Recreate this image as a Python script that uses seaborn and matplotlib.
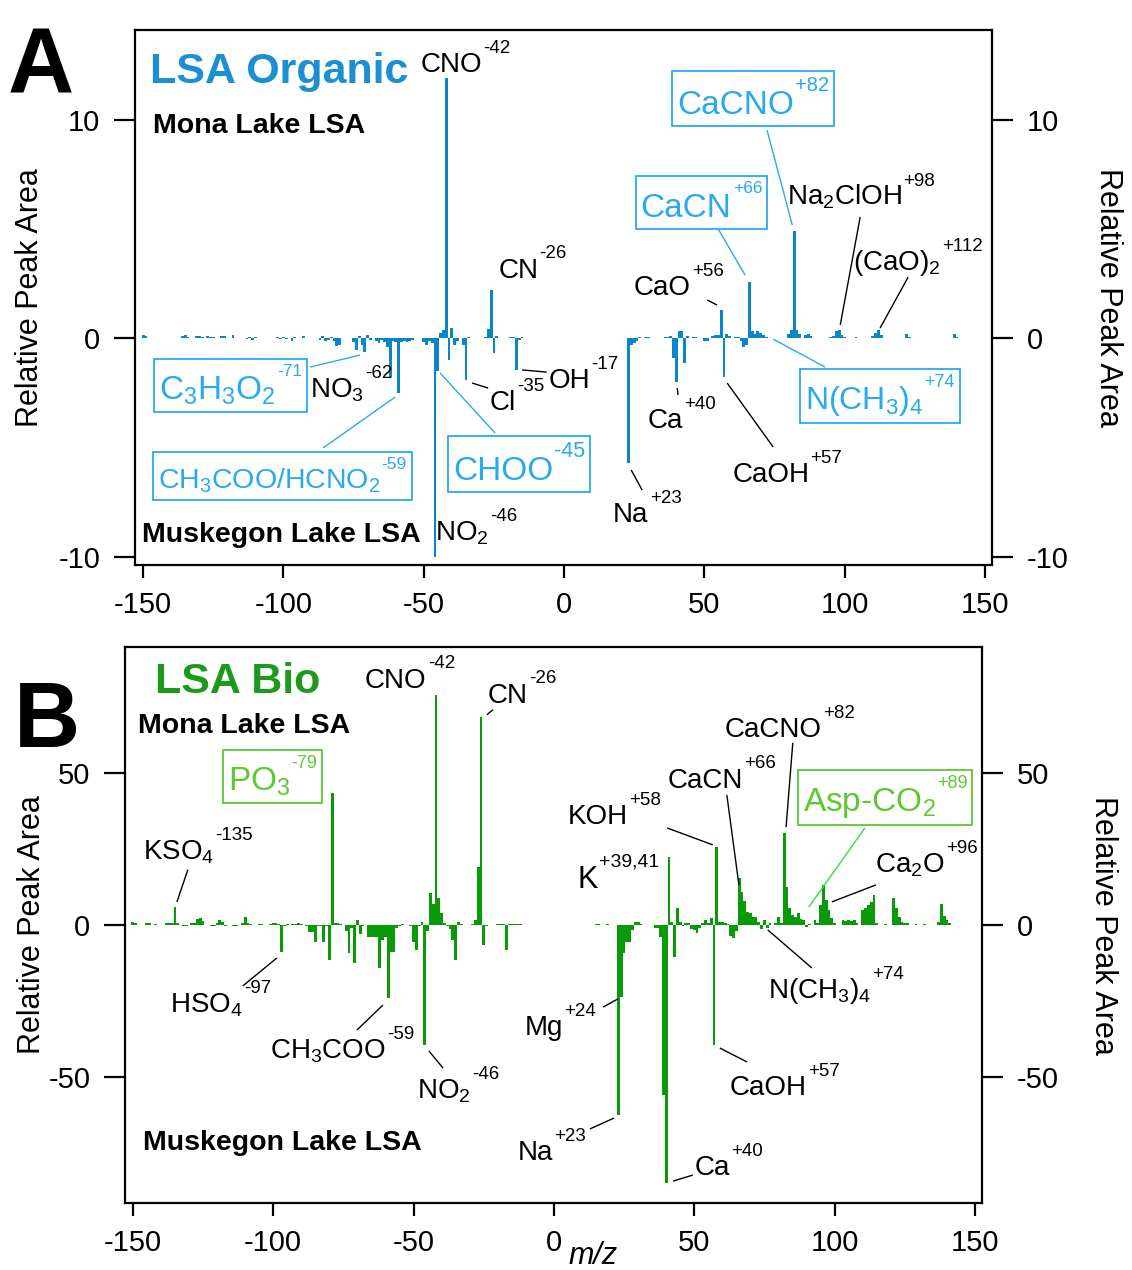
import matplotlib
matplotlib.use("Agg")
import matplotlib.pyplot as plt
from matplotlib.patches import Rectangle
from matplotlib.transforms import Bbox
import pandas as pd
import seaborn as sns

# ---------------- LSA Organic: Mona Lake (>0) vs Muskegon Lake (<0) ----------------
org_neg_mz = [-150, -149, -136, -135, -134, -131, -130, -129, -127, -126,
              -125, -122, -121, -118, -113, -112, -111, -110, -102, -101,
              -100, -99, -97, -96, -93, -87, -86, -85, -84, -83,
              -82, -81, -80, -75, -74, -73, -72, -71, -70, -69,
              -67, -66, -65, -64, -63, -62, -61, -60, -59, -58,
              -57, -56, -55, -54, -50, -49, -48, -47, -46, -45,
              -44, -43, -42, -41, -40, -39, -38, -36, -35, -34,
              -28, -27, -26, -25, -24, -19, -18, -17, -16, -15]
org_neg_area = [0.12, 0.08, 0.08, 0.12, 0.06, 0.08, 0.10, 0.06, 0.08, 0.05,
                0.06, 0.10, 0.08, 0.12, -0.06, 0.06, -0.08, 0.05, 0.06, -0.05,
                0.06, -0.06, -0.12, 0.05, 0.10, -0.10, 0.08, -0.12, -0.08, 0.06,
                -0.15, -0.35, -0.30, -0.20, -0.55, 0.10, -0.30, -0.65, 0.12, -0.08,
                -0.15, -0.25, -0.10, -0.20, -0.40, -1.80, -0.15, -0.20, -2.50, -0.20,
                -0.15, -0.20, -0.12, -0.10, -0.20, -0.30, -0.15, -0.25, -10.0, -1.50,
                0.25, 0.35, 11.9, -1.00, 0.45, -0.30, -0.15, -0.30, -1.90, 0.06,
                0.05, 0.40, 2.20, -0.70, 0.08, 0.06, 0.05, -1.45, -0.10, 0.05]

org_pos_mz = [23, 24, 25, 26, 27, 29, 30, 36, 37, 38,
              39, 40, 41, 42, 43, 44, 46, 47, 50, 51,
              53, 54, 55, 56, 57, 58, 59, 61, 62, 63,
              64, 65, 66, 67, 68, 69, 70, 71, 72, 80,
              81, 82, 83, 84, 86, 87, 88, 95, 96, 97,
              98, 99, 100, 104, 110, 111, 112, 113, 122, 123,
              139, 140]
org_pos_area = [-5.7, -0.30, -0.25, -0.15, 0.06, 0.05, 0.06, 0.05, 0.06, 0.10,
                -0.90, -2.00, 0.30, 0.30, -1.15, 0.10, 0.06, 0.05, -0.12, -0.15,
                0.08, 0.12, 0.15, 1.30, -1.80, 0.20, 0.10, 0.06, 0.05, -0.15,
                -0.40, -0.30, 2.55, 0.30, 0.20, 0.30, 0.25, 0.12, 0.06, 0.20,
                0.35, 4.90, 0.35, 0.20, 0.15, 0.20, 0.10, 0.06, 0.10, 0.30,
                0.35, 0.15, 0.06, 0.05, 0.10, 0.25, 0.35, 0.12, 0.20, 0.05,
                0.20, 0.05]

# ---------------- LSA Bio: Mona Lake (>0) vs Muskegon Lake (<0) ----------------
bio_neg_mz = [-150, -149, -145, -144, -142, -138, -137, -136, -135, -134,
              -132, -131, -129, -128, -127, -126, -125, -122, -121, -120,
              -119, -118, -117, -114, -113, -111, -110, -109, -108, -105,
              -104, -101, -100, -99, -98, -97, -96, -95, -93, -92,
              -91, -90, -88, -87, -86, -85, -84, -83, -82, -81,
              -80, -79, -78, -77, -76, -74, -73, -72, -71, -70,
              -69, -68, -66, -65, -64, -63, -62, -61, -60, -59,
              -58, -57, -56, -55, -54, -51, -50, -49, -48, -47,
              -46, -45, -44, -43, -42, -41, -40, -39, -38, -37,
              -36, -35, -34, -33, -29, -28, -27, -26, -25, -24,
              -20, -19, -18, -17, -16, -15, -14, -13, -12]
bio_neg_area = [1.0, 0.6, 0.5, 0.5, 0.3, 0.5, 0.7, 0.7, 6.0, 0.7,
                -0.5, -0.4, 0.6, 0.8, 2.0, 2.2, 1.2, -0.5, -0.4, 0.6,
                1.5, 1.0, -0.3, -0.5, -0.4, 0.8, 2.5, 0.8, 0.3, 0.3,
                0.2, 0.4, 0.5, 0.5, 0.3, -8.8, -0.5, 0.3, 0.4, 0.3,
                0.8, 0.4, -0.4, -2.2, -2.2, -5.5, -0.4, -0.4, -5.5, -0.4,
                -11.5, 43.6, 0.5, 0.5, 0.3, -2.0, -9.3, -1.0, -12.6, 1.6,
                -3.0, -0.5, -3.9, -3.9, -3.9, -3.9, -14.3, -5.0, -3.9, -24.0,
                -8.8, -8.8, -1.1, -0.5, 0.3, -0.3, -5.5, -8.3, -0.5, 1.1,
                -39.6, -2.0, 10.5, 7.0, 76.0, 8.8, 3.8, 0.5, -0.5, -1.5,
                -5.0, -11.5, 1.0, 0.3, 0.3, 1.5, 19.0, 68.6, -6.6, -0.3,
                0.3, 0.3, 0.3, -8.3, 0.4, 0.3, 0.3, 0.4, 0.3]

bio_pos_mz = [15, 16, 19, 23, 24, 25, 26, 27, 28, 29,
              30, 31, 36, 37, 38, 39, 40, 41, 42, 43,
              44, 45, 46, 47, 48, 49, 50, 51, 52, 53,
              54, 55, 56, 57, 58, 59, 60, 61, 62, 63,
              64, 65, 66, 67, 68, 69, 70, 71, 72, 73,
              74, 75, 76, 77, 79, 80, 81, 82, 83, 84,
              85, 86, 87, 88, 89, 90, 91, 93, 94, 95,
              96, 97, 98, 99, 100, 103, 104, 105, 106, 107,
              108, 110, 111, 112, 113, 114, 115, 118, 121, 122,
              123, 124, 125, 126, 129, 132, 137, 138, 139, 140,
              141]
bio_pos_area = [0.3, 0.2, 0.4, -62.7, -23.8, -9.3, -5.5, -5.5, -1.6, 1.0,
                1.0, 0.3, -1.0, -1.0, -3.9, -56.0, -85.0, 22.5, 1.0, -10.5,
                5.5, 1.0, -0.5, 0.8, 0.5, -1.5, -1.6, -2.7, -1.0, 0.5,
                1.5, 0.5, 2.2, -39.6, 25.8, 1.0, 1.0, 0.5, 0.4, -3.5,
                -4.4, -2.0, 15.5, 11.0, 8.0, 4.4, 4.0, 2.5, 2.7, 1.0,
                -1.5, 1.6, -1.0, 0.5, 0.5, 2.5, 0.8, 30.3, 12.6, 5.5,
                3.3, 2.7, 3.8, 2.0, 1.5, -0.8, 0.3, 1.6, 0.8, 6.6,
                13.2, 8.2, 5.0, 2.2, 0.8, 1.6, 1.2, 1.6, 1.2, 1.6,
                0.5, 5.0, 5.5, 6.6, 7.7, 9.9, 0.5, 0.3, 8.8, 5.5,
                2.7, 1.0, 0.5, 0.5, 0.3, 0.3, 1.0, 7.0, 3.0, 1.5,
                0.5]

x_ticks = [-150, -100, -50, 0, 50, 100, 150]

ORG_BAR = "#0a86c8"
ORG_TITLE = "#1a8fd2"
ORG_BOX = "#27aaee"
BIO_BAR = "#089a08"
BIO_TITLE = "#1b9a1b"
BIO_BOX = "#5cc832"
BIO_LINE = "#33e033"

sns.set_theme(style="ticks")
plt.rcParams["font.family"] = ["Liberation Sans", "DejaVu Sans"]
plt.rcParams["mathtext.default"] = "regular"
plt.rcParams["axes.unicode_minus"] = False
plt.rcParams["axes.linewidth"] = 1.6
for key in ("text.color", "axes.labelcolor", "xtick.color", "ytick.color",
            "axes.edgecolor"):
    plt.rcParams[key] = "black"

fig = plt.figure(figsize=(11.32, 12.70), dpi=100)
ax_a = fig.add_axes([0.1193, 0.5551, 0.7571, 0.4213])
ax_b = fig.add_axes([0.1104, 0.0528, 0.7571, 0.4378])

boxed_labels = []


def spectrum(neg_mz, neg_area, pos_mz, pos_area):
    assert len(neg_mz) == len(neg_area) and len(pos_mz) == len(pos_area)
    return pd.DataFrame({"mz": list(neg_mz) + list(pos_mz),
                         "area": list(neg_area) + list(pos_area)})


def draw_spectrum(ax, df, color, xlim, ylim, yticks, right_label_x, left_label_x):
    sns.barplot(data=df, x="mz", y="area", native_scale=True, width=1.0,
                orient="x", errorbar=None, color=color, saturation=1,
                linewidth=0, ax=ax)
    ax.set_xlim(*xlim)
    ax.set_ylim(*ylim)
    ax.set_xticks(x_ticks)
    ax.set_yticks(yticks)
    ax.set_xlabel("")
    ax.set_ylabel("")
    for s in ax.spines.values():
        s.set_visible(True)
        s.set_linewidth(1.6)
        s.set_color("black")
    ax.tick_params(axis="y", which="major", direction="out", length=15,
                   width=1.6, labelsize=21, pad=3, left=True, right=True,
                   labelleft=True, labelright=True, colors="black")
    ax.tick_params(axis="y", which="major", pad=10, labelright=True)
    ax.tick_params(axis="x", which="major", direction="out", length=9,
                   width=1.6, labelsize=21, pad=10, top=False, colors="black")
    ax.text(left_label_x, 0.5, "Relative Peak Area", transform=ax.transAxes,
            rotation=90, ha="center", va="center", fontsize=22)
    ax.text(right_label_x, 0.5, "Relative Peak Area", transform=ax.transAxes,
            rotation=-90, ha="center", va="center", fontsize=22)


def label(ax, x, y, main, sup="", size=20, sup_size=13.5, color="black",
          box=None, weight="normal"):
    """Ion label: main formula (subscripts via mathtext) plus a small,
    raised charge/mass tag placed just after it."""
    t = ax.text(x, y, main, fontsize=size, color=color, ha="left",
                va="baseline", fontweight=weight, zorder=6)
    parts = [t]
    if sup:
        s = ax.annotate(sup, xy=(1.0, y), xycoords=(t, "data"),
                        xytext=(0.8, 0.70 * size), textcoords="offset points",
                        fontsize=sup_size, color=color, ha="left",
                        va="baseline", zorder=6, annotation_clip=False)
        parts.append(s)
    if box is not None:
        boxed_labels.append((ax, parts, box))
    return parts


def leader(ax, p, q, color="black", lw=1.0):
    ax.plot([p[0], q[0]], [p[1], q[1]], color=color, lw=lw, zorder=4,
            solid_capstyle="butt")


# ----------------------------- Panel A -----------------------------
org = spectrum(org_neg_mz, org_neg_area, org_pos_mz, org_pos_area)
draw_spectrum(ax_a, org, ORG_BAR, (-152.9, 152.5), (-10.39, 14.10),
              [-10, 0, 10], 1.135, -0.1225)

label(ax_a, -147.5, 11.67, "LSA Organic", size=31, color=ORG_TITLE, weight="bold")
label(ax_a, -146.5, 9.38, "Mona Lake LSA", size=20.5, weight="bold")
label(ax_a, -150.4, -9.34, "Muskegon Lake LSA", size=20.5, weight="bold")

label(ax_a, -51.3, 12.17, "CNO", "-42")
label(ax_a, -23.5, 2.75, "CN", "-26")
label(ax_a, -90.5, -2.70, "NO$_3$", "-62")
label(ax_a, -26.4, -3.30, "Cl", "-35")
label(ax_a, -5.7, -2.29, "OH", "-17")
label(ax_a, -46.0, -9.25, "NO$_2$", "-46")
label(ax_a, 24.9, 1.97, "CaO", "+56")
label(ax_a, 79.5, 6.09, "Na$_2$ClOH", "+98")
label(ax_a, 103.0, 3.11, "(CaO)$_2$", "+112")
label(ax_a, 29.9, -4.12, "Ca", "+40")
label(ax_a, 59.9, -6.59, "CaOH", "+57")
label(ax_a, 17.5, -8.42, "Na", "+23")

label(ax_a, -144.3, -2.80, "C$_3$H$_3$O$_2$", "-71", size=24, sup_size=12.5,
      color=ORG_BOX, box=ORG_BOX)
label(ax_a, -144.6, -6.90, "CH$_3$COO/HCNO$_2$", "-59", size=20.5, sup_size=12.5,
      color=ORG_BOX, box=ORG_BOX)
label(ax_a, -39.6, -6.50, "CHOO", "-45", size=24, sup_size=15.5,
      color=ORG_BOX, box=ORG_BOX)
label(ax_a, 27.3, 5.55, "CaCN", "+66", size=24, sup_size=12.5,
      color=ORG_BOX, box=ORG_BOX)
label(ax_a, 40.3, 10.25, "CaCNO", "+82", size=24, sup_size=14.5,
      color=ORG_BOX, box=ORG_BOX)
label(ax_a, 85.8, -3.25, "N(CH$_3$)$_4$", "+74", size=23, sup_size=13,
      color=ORG_BOX, box=ORG_BOX)

leader(ax_a, (72.3, 9.52), (81.3, 5.17), ORG_BOX)
leader(ax_a, (54.5, 5.08), (64.5, 2.88), ORG_BOX)
leader(ax_a, (74.5, -0.05), (93.0, -1.33), ORG_BOX)
leader(ax_a, (-90.5, -1.33), (-72.7, -0.78), ORG_BOX)
leader(ax_a, (-85.9, -5.03), (-60.2, -2.70), ORG_BOX)
leader(ax_a, (-44.2, -1.60), (-24.6, -4.35), ORG_BOX)
leader(ax_a, (105.5, 5.54), (98.4, 0.60))
leader(ax_a, (122.6, 2.79), (112.6, 0.46))
leader(ax_a, (51.0, 1.74), (54.5, 1.51))
leader(ax_a, (58.1, -2.06), (74.5, -4.99))
leader(ax_a, (40.3, -2.29), (40.6, -2.61))
leader(ax_a, (23.9, -6.04), (27.8, -6.96))
leader(ax_a, (-32.8, -2.06), (-27.1, -2.29))
leader(ax_a, (-15.0, -1.46), (-6.2, -1.56))

# ----------------------------- Panel B -----------------------------
bio = spectrum(bio_neg_mz, bio_neg_area, bio_pos_mz, bio_pos_area)
draw_spectrum(ax_b, bio, BIO_BAR, (-152.8, 152.5), (-91.7, 91.7),
              [-50, 0, 50], 1.141, -0.1085)

label(ax_b, -142.1, 76.6, "LSA Bio", size=31, color=BIO_TITLE, weight="bold")
label(ax_b, -148.2, 63.4, "Mona Lake LSA", size=20.5, weight="bold")
label(ax_b, -146.4, -74.3, "Muskegon Lake LSA", size=20.5, weight="bold")

label(ax_b, -146.4, 21.5, "KSO$_4$", "-135")
label(ax_b, -67.3, 78.2, "CNO", "-42")
label(ax_b, -23.5, 73.3, "CN", "-26")
label(ax_b, -136.8, -29.0, "HSO$_4$", "-97")
label(ax_b, -101.2, -43.9, "CH$_3$COO", "-59")
label(ax_b, -48.8, -57.1, "NO$_2$", "-46")
label(ax_b, -10.3, -36.3, "Mg", "+24")
label(ax_b, -12.8, -77.6, "Na", "+23")
label(ax_b, 50.2, -82.5, "Ca", "+40")
label(ax_b, 62.7, -56.1, "CaOH", "+57")
label(ax_b, 76.2, -24.1, "N(CH$_3$)$_4$", "+74")
label(ax_b, 5.0, 33.3, "KOH", "+58")
label(ax_b, 40.6, 45.2, "CaCN", "+66")
label(ax_b, 60.9, 62.0, "CaCNO", "+82")
label(ax_b, 8.5, 12.2, "K", "+39,41", size=22, sup_size=14)
label(ax_b, 114.4, 17.2, "Ca$_2$O", "+96")

label(ax_b, -116.2, 44.2, "PO$_3$", "-79", size=24, sup_size=13,
      color=BIO_BOX, box=BIO_BOX)
label(ax_b, 88.7, 37.6, "Asp-CO$_2$", "+89", size=24, sup_size=13,
      color=BIO_BOX, box=BIO_BOX)

leader(ax_b, (-130.4, 18.2), (-134.3, 7.6))
leader(ax_b, (-23.9, 69.3), (-21.7, 71.0))
leader(ax_b, (-110.8, -20.1), (-98.7, -10.9))
leader(ax_b, (-70.2, -34.7), (-60.9, -26.4))
leader(ax_b, (-44.5, -41.6), (-39.5, -47.2))
leader(ax_b, (17.5, -27.1), (22.8, -24.4))
leader(ax_b, (12.8, -67.3), (21.4, -63.7))
leader(ax_b, (42.4, -84.5), (49.5, -82.5))
leader(ax_b, (59.1, -40.6), (68.8, -45.2))
leader(ax_b, (76.2, -1.65), (91.9, -14.2))
leader(ax_b, (40.3, 32.0), (56.6, 26.4))
leader(ax_b, (61.6, 42.9), (65.9, 13.2))
leader(ax_b, (85.1, 60.1), (82.7, 32.3))
leader(ax_b, (110.8, 32.0), (90.8, 5.9), BIO_LINE)
leader(ax_b, (114.7, 13.2), (99.0, 7.6))

# panel letters and x-axis unit
fig.text(0.007, 0.9275, "A", fontsize=66, fontweight="bold", ha="left", va="baseline")
fig.text(0.0125, 0.4120, "B", fontsize=66, fontweight="bold", ha="left", va="baseline")
fig.text(0.5018, 0.011, "m/z", fontsize=22, style="italic", ha="left", va="center")

# frame the highlighted ion labels once their text extents are known
fig.canvas.draw()
renderer = fig.canvas.get_renderer()
PAD = 5
for ax, parts, color in boxed_labels:
    bb = Bbox.union([p.get_window_extent(renderer) for p in parts])
    inv = ax.transData.inverted()
    (x0, y0), (x1, y1) = inv.transform([[bb.x0 - PAD, bb.y0 - PAD],
                                        [bb.x1 + PAD, bb.y1 + PAD]])
    ax.add_patch(Rectangle((x0, y0), x1 - x0, y1 - y0, facecolor="white",
                           edgecolor=color, linewidth=1.3, zorder=5))

fig.savefig("out.png", dpi=100)
